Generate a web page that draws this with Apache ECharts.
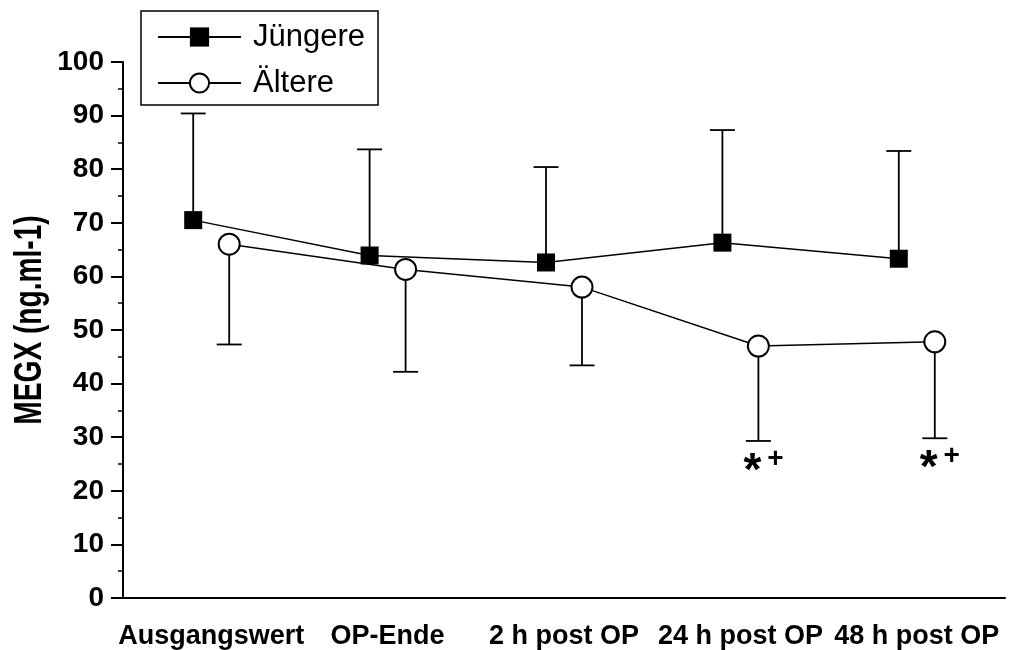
<!DOCTYPE html>
<html>
<head>
<meta charset="utf-8">
<script src="https://cdn.jsdelivr.net/npm/echarts@6/dist/echarts.min.js"></script>
<style>
html,body{margin:0;padding:0;background:#fff;}
#chart{width:1031px;height:650px;}
</style>
</head>
<body>
<div id="chart"></div>
<script>
const categories = ['Ausgangswert', 'OP-Ende', '2 h post OP', '24 h post OP', '48 h post OP'];
const juengereMean = [70.5, 63.9, 62.6, 66.3, 63.3];
const juengereUpper = [90.4, 83.7, 80.4, 87.3, 83.4];
const aeltereMean = [66.0, 61.3, 58.0, 47.0, 47.8];
const aeltereLower = [47.3, 42.2, 43.4, 29.3, 29.8];
const sigStar = ['', '', '', '*', '*'];
const sigPlus = ['', '', '', '+', '+'];
const yTicks = [0, 10, 20, 30, 40, 50, 60, 70, 80, 90, 100];
const yTitle = 'MEGX (ng.ml-1)';

const FONT = "'Liberation Sans', Arial, sans-serif";

function makeRender(mean, offset, kind) {
  return function (params, api) {
    const i = api.value(0);
    const p = api.coord([i, api.value(1)]);
    const b = api.coord([i, api.value(2)]);
    const x = p[0] + offset;
    const children = [];
    if (i < mean.length - 1) {
      const q = api.coord([i + 1, mean[i + 1]]);
      children.push({type: 'line', shape: {x1: x, y1: p[1], x2: q[0] + offset, y2: q[1]},
        style: {stroke: '#000', lineWidth: 1.5}});
    }
    children.push({type: 'line', shape: {x1: x, y1: p[1], x2: x, y2: b[1]},
      style: {stroke: '#000', lineWidth: 1.8}});
    children.push({type: 'line', shape: {x1: x - 12.5, y1: b[1], x2: x + 12.5, y2: b[1]},
      style: {stroke: '#000', lineWidth: 1.8}});
    if (kind === 'square') {
      children.push({type: 'rect', shape: {x: x - 9, y: p[1] - 9, width: 18, height: 18},
        style: {fill: '#000'}});
    } else {
      children.push({type: 'circle', shape: {cx: x, cy: p[1], r: 10.5},
        style: {fill: '#fff', stroke: '#000', lineWidth: 2}});
      if (sigStar[i]) {
        children.push({type: 'text', x: x - 6, y: b[1] + 31,
          style: {text: sigStar[i], font: "bold 46px " + FONT, fill: '#000', align: 'center', verticalAlign: 'middle'}});
      }
      if (sigPlus[i]) {
        children.push({type: 'text', x: x + 17, y: b[1] + 18,
          style: {text: sigPlus[i], font: "bold 28px " + FONT, fill: '#000', align: 'center', verticalAlign: 'middle'}});
      }
    }
    return {type: 'group', children: children};
  };
}

const chart = echarts.init(document.getElementById('chart'), null, {renderer: 'canvas'});
chart.setOption({
  animation: false,
  backgroundColor: '#fff',
  textStyle: {fontFamily: FONT},
  grid: {left: 123, right: 26, top: 62, bottom: 52, containLabel: false},
  graphic: [{
    type: 'text', x: 31, y: 320, rotation: Math.PI / 2, scaleX: 0.74,
    style: {text: yTitle, font: "bold 38px " + FONT, fill: '#000', align: 'center', verticalAlign: 'middle'}
  }],
  legend: {
    data: ['Jüngere', 'Ältere'],
    orient: 'vertical',
    left: 141, top: 11,
    padding: [10, 13, 6, 16],
    borderColor: '#000', borderWidth: 1.5,
    itemWidth: 83, itemHeight: 24, itemGap: 14,
    textStyle: {fontSize: 31, color: '#000', fontFamily: FONT, lineHeight: 30, padding: [2, 0, 0, 7]},
    selectedMode: false
  },
  xAxis: {
    type: 'category',
    data: categories,
    boundaryGap: true,
    axisLine: {lineStyle: {color: '#000', width: 2}},
    axisTick: {alignWithLabel: true, length: 12, lineStyle: {color: '#000', width: 2}},
    axisLabel: {color: '#000', fontSize: 27, fontWeight: 'bold', margin: 25, fontFamily: FONT, interval: 0},
    splitLine: {show: false}
  },
  yAxis: {
    type: 'value',
    min: yTicks[0], max: yTicks[yTicks.length - 1], interval: 10,
    axisLine: {show: true, lineStyle: {color: '#000', width: 2}},
    axisTick: {show: true, length: 12, lineStyle: {color: '#000', width: 2}},
    minorTick: {show: true, splitNumber: 2, length: 5, lineStyle: {color: '#000', width: 1.5}},
    axisLabel: {color: '#000', fontSize: 28, fontWeight: 'bold', margin: 19, fontFamily: FONT},
    splitLine: {show: false}
  },
  series: [
    {name: 'Jüngere', type: 'line', data: [], symbol: 'rect',
      itemStyle: {color: '#000'}, lineStyle: {color: '#000', width: 1.5}},
    {name: 'Ältere', type: 'line', data: [], symbol: 'circle',
      itemStyle: {color: '#fff', borderColor: '#000', borderWidth: 2}, lineStyle: {color: '#000', width: 1.5}},
    {type: 'custom', name: 'jg', renderItem: makeRender(juengereMean, -18, 'square'),
      data: juengereMean.map((v, i) => [i, v, juengereUpper[i]]), z: 3},
    {type: 'custom', name: 'al', renderItem: makeRender(aeltereMean, 18, 'circle'),
      data: aeltereMean.map((v, i) => [i, v, aeltereLower[i]]), z: 4}
  ]
});
</script>
</body>
</html>
